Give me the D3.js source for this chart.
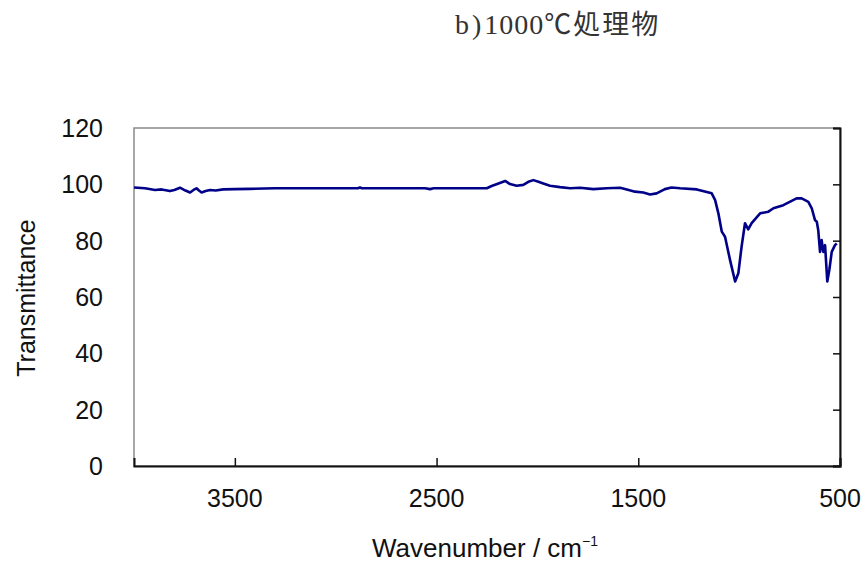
<!DOCTYPE html>
<html>
<head>
<meta charset="utf-8">
<script src="https://cdn.jsdelivr.net/npm/d3@7"></script>
<style>
  body { margin: 0; background: #fff; }
  svg text { font-family: "Liberation Sans", Arial, sans-serif; }
</style>
</head>
<body>
<div id="chart"></div>
<script>
// spectrum
const wavenumber = [4000,3945,3896,3863,3822,3800,3772,3745,3722,3705,3690,3678,3665,3645,3623,3595,3558,3500,3425,3300,3200,3000,2890,2880,2870,2700,2557,2532,2515,2251,2227,2193,2160,2136,2103,2070,2045,2020,1995,1971,1938,1888,1838,1789,1723,1657,1590,1557,1516,1475,1442,1409,1368,1335,1293,1210,1136,1119,1103,1086,1070,1045,1020,1004,988,971,955,938,896,855,830,781,715,690,657,640,624,615,608,599,591,583,574,563,553,541,525,516];
const transmittance = [98.9,98.6,98.0,98.2,97.6,98.0,98.8,97.8,97.1,98.0,98.6,97.8,97.1,97.6,98.0,97.8,98.2,98.3,98.4,98.6,98.6,98.6,98.6,98.9,98.6,98.6,98.6,98.3,98.6,98.6,99.4,100.3,101.2,100.1,99.5,99.8,100.9,101.5,100.9,100.3,99.5,99.0,98.6,98.8,98.3,98.6,98.8,98.2,97.4,97.1,96.4,96.8,98.3,98.9,98.6,98.2,96.8,94.4,89.7,83.2,81.4,73.1,65.5,68.4,77.8,86.2,84.0,86.2,89.7,90.3,91.5,92.6,95.0,95.0,93.8,91.5,87.3,86.7,83.8,76.0,80.2,76.0,78.4,65.5,69.6,76.0,78.4,79.0];

const yTicks = [0, 20, 40, 60, 80, 100, 120];
const xTicks = [3500, 2500, 1500, 500];
const titleHead = "b)";
const titleNum = "1000";
const titleTail = "℃処理物";
const xLabel = "Wavenumber / cm";
const yLabel = "Transmittance";

const width = 867, height = 566;
const margin = {top: 128, right: 27, bottom: 100, left: 134};

const svg = d3.select("#chart").append("svg")
  .attr("width", width)
  .attr("height", height);

const x = d3.scaleLinear()
  .domain([4000, 500])
  .range([margin.left, width - margin.right]);

const y = d3.scaleLinear()
  .domain([0, 120])
  .range([height - margin.bottom, margin.top]);

// plot frame: top/left grey, axes black
svg.append("rect")
  .attr("x", x(4000)).attr("y", y(120))
  .attr("width", x(500) - x(4000)).attr("height", y(0) - y(120))
  .attr("fill", "none").attr("stroke", "#8a8a8a").attr("stroke-width", 1.5);

// x axis at bottom, ticks inward
svg.append("g")
  .attr("transform", `translate(0,${y(0)})`)
  .call(d3.axisTop(x).tickValues(xTicks).tickSize(8).tickFormat(""))
  .call(g => g.select(".domain").attr("stroke", "#111").attr("stroke-width", 2));
svg.selectAll(".xlab").data(xTicks).enter().append("text")
  .attr("class", "xlab")
  .attr("x", d => x(d)).attr("y", y(0) + 41)
  .attr("text-anchor", "middle")
  .attr("font-size", 25)
  .attr("fill", "#111")
  .text(d => d);

// y axis on the right edge, ticks inward, labels on the left
svg.append("g")
  .attr("transform", `translate(${x(500)},0)`)
  .call(d3.axisLeft(y).tickValues(yTicks).tickSize(7).tickFormat(""))
  .call(g => g.select(".domain").attr("stroke", "#111").attr("stroke-width", 2));
svg.selectAll(".ylab").data(yTicks).enter().append("text")
  .attr("class", "ylab")
  .attr("x", 103).attr("y", d => y(d) + 9)
  .attr("text-anchor", "end")
  .attr("font-size", 25)
  .attr("fill", "#111")
  .text(d => d);

svg.selectAll(".tick line").attr("stroke", "#111").attr("stroke-width", 1.5);

// spectrum
const pts = wavenumber.map((w, i) => [w, transmittance[i]]);
svg.append("path")
  .datum(pts)
  .attr("d", d3.line().x(d => x(d[0])).y(d => y(d[1])))
  .attr("fill", "none")
  .attr("stroke", "#000088")
  .attr("stroke-width", 2.6)
  .attr("stroke-linejoin", "round");

// titles
const tt = svg.append("text")
  .attr("x", 455).attr("y", 34)
  .style("font-family", "'Liberation Serif', 'Noto Sans CJK JP', serif")
  .attr("fill", "#333");
tt.append("tspan").attr("font-size", 28).attr("letter-spacing", 3).text(titleHead);
tt.append("tspan").attr("font-size", 28).attr("letter-spacing", 1).text(titleNum);
tt.append("tspan").attr("font-size", 27).attr("letter-spacing", 2).text(titleTail);

const xl = svg.append("text")
  .attr("x", 485).attr("y", 557)
  .attr("text-anchor", "middle")
  .attr("font-size", 26)
  .attr("fill", "#111")
  .text(xLabel);
xl.append("tspan").attr("font-size", 14).attr("dy", -11).text("−1");

svg.append("text")
  .attr("transform", "translate(35,298) rotate(-90)")
  .attr("text-anchor", "middle")
  .attr("font-size", 25)
  .attr("fill", "#111")
  .text(yLabel);
</script>
</body>
</html>
